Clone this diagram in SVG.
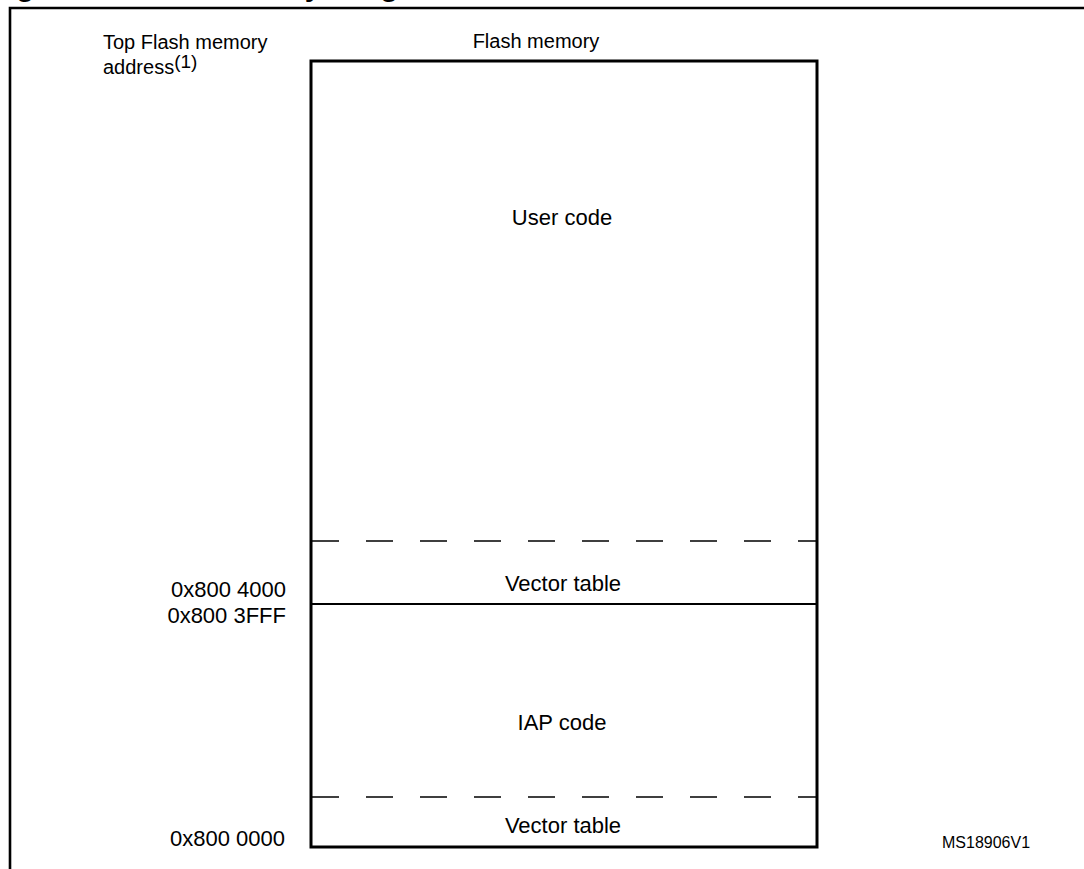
<svg xmlns="http://www.w3.org/2000/svg" width="1084" height="869" viewBox="0 0 1084 869">
<style>
text{font-family:"Liberation Sans",Arial,sans-serif;fill:#000;font-size:22px}
.c{text-anchor:middle}
.r{text-anchor:end}
.h{font-size:20px}
.dash{stroke:#000;stroke-width:1.6;stroke-dasharray:27 27;fill:none}
</style>
<rect width="1084" height="869" fill="#fff"/>
<text x="-10" y="-4" style="font-weight:bold;font-size:29.5px">Figure 1. Flash memory usage</text>
<path d="M10 869V8H1084" fill="none" stroke="#000" stroke-width="2.6"/>
<g id="labels">
<text class="h" x="103" y="49">Top Flash memory</text>
<text class="h" x="103" y="74">address<tspan dy="-6" font-size="19">(1)</tspan></text>
<text class="c h" x="536" y="48">Flash memory</text>
<text class="r" x="286" y="597">0x800 4000</text>
<text class="r" x="286" y="623">0x800 3FFF</text>
<text class="r" x="285" y="846">0x800 0000</text>
<text x="942" y="848" style="font-size:16px">MS18906V1</text>
</g>
<g id="flash">
<rect x="311" y="61" width="506" height="786" fill="none" stroke="#000" stroke-width="3"/>
</g>
<g id="user-code"><text class="c" x="562" y="225">User code</text></g>
<g id="vector-table-app"><text class="c" x="563" y="591">Vector table</text></g>
<g id="iap-code"><text class="c" x="562" y="730">IAP code</text></g>
<g id="vector-table-iap"><text class="c" x="563" y="833">Vector table</text></g>
<g id="connectors">
<line class="dash" x1="312" y1="541" x2="816" y2="541"/>
<line x1="312" y1="604" x2="816" y2="604" stroke="#000" stroke-width="2"/>
<line class="dash" x1="312" y1="797" x2="816" y2="797"/>
</g>
</svg>
